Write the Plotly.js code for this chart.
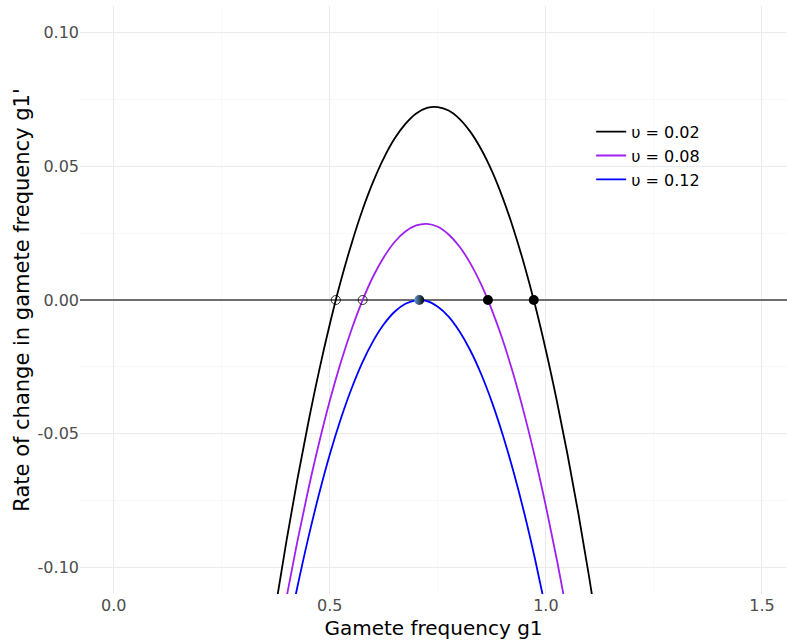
<!DOCTYPE html>
<html>
<head>
<meta charset="utf-8">
<script src="https://cdn.plot.ly/plotly-3.0.1.min.js"></script>
<style>html,body{margin:0;padding:0;background:#fff;}#chart{width:787px;height:644px;}</style>
</head>
<body>
<div id="chart"></div>
<script>
// Curve samples
const x002 = [0.375, 0.40, 0.425, 0.45, 0.475, 0.50, 0.525, 0.55, 0.575, 0.60, 0.625, 0.65, 0.675, 0.70, 0.725, 0.75, 0.775, 0.80, 0.825, 0.85, 0.875, 0.90, 0.925, 0.95, 0.975, 1.00, 1.025, 1.05, 1.075, 1.10, 1.125];
const y002 = [-0.1145, -0.0899, -0.0671, -0.0461, -0.0267, -0.0091, 0.0068, 0.0209, 0.0334, 0.0441, 0.0531, 0.0604, 0.0659, 0.0698, 0.0719, 0.0722, 0.0709, 0.0678, 0.0630, 0.0565, 0.0483, 0.0383, 0.0266, 0.0132, -0.0019, -0.0188, -0.0374, -0.0577, -0.0797, -0.1035, -0.129];
const x008 = [0.375, 0.40, 0.425, 0.45, 0.475, 0.50, 0.525, 0.55, 0.575, 0.60, 0.625, 0.65, 0.675, 0.70, 0.725, 0.75, 0.775, 0.80, 0.825, 0.85, 0.875, 0.90, 0.925, 0.95, 0.975, 1.00, 1.025, 1.05];
const y008 = [-0.134, -0.1112, -0.0903, -0.0711, -0.0536, -0.0377, -0.0236, -0.0112, -0.0004, 0.0087, 0.0160, 0.0217, 0.0256, 0.0279, 0.0285, 0.0274, 0.0245, 0.0200, 0.0138, 0.0059, -0.0037, -0.0149, -0.0279, -0.0426, -0.0590, -0.0771, -0.0968, -0.1183];
const x012 = [0.40, 0.425, 0.45, 0.475, 0.50, 0.525, 0.55, 0.575, 0.60, 0.625, 0.65, 0.675, 0.70, 0.725, 0.75, 0.775, 0.80, 0.825, 0.85, 0.875, 0.90, 0.925, 0.95, 0.975, 1.00, 1.025];
const y012 = [-0.1272, -0.1074, -0.0892, -0.0727, -0.0578, -0.0447, -0.0333, -0.0235, -0.0155, -0.0091, -0.0044, -0.0014, -0.0001, -0.0004, -0.0025, -0.0062, -0.0117, -0.0188, -0.0276, -0.0381, -0.0503, -0.0642, -0.0797, -0.0970, -0.1159, -0.1365];
const seriesNames = ["υ = 0.02", "υ = 0.08", "υ = 0.12"];
const seriesColors = ["#000000", "#a020f0", "#0000ff"];

// Equilibrium points
const unstableX = [0.514, 0.576];
const unstableY = [0, 0];
const stableX = [0.866, 0.972];
const stableY = [0, 0];
const halfX = [0.707];
const halfY = [0];

const xTickVals = [0, 0.5, 1.0, 1.5];
const xTickText = ["0.0", "0.5", "1.0", "1.5"];
const yTickVals = [-0.10, -0.05, 0, 0.05, 0.10];
const yTickText = ["-0.10", "-0.05", "0.00", "0.05", "0.10"];

const curves = [[x002, y002], [x008, y008], [x012, y012]];
const traces = curves.map((c, i) => ({
  x: c[0], y: c[1], type: 'scatter', mode: 'lines', name: seriesNames[i],
  line: {color: seriesColors[i], width: 1.8, shape: 'spline', smoothing: 1.0}
}));
traces.push({
  x: unstableX, y: unstableY, type: 'scatter', mode: 'markers', showlegend: false,
  marker: {symbol: 'circle-open', size: 9, color: '#000', line: {width: 0.8, color: '#000'}}
});
traces.push({
  x: stableX, y: stableY, type: 'scatter', mode: 'markers', showlegend: false,
  marker: {symbol: 'circle', size: 10, color: '#000'}
});
traces.push({
  x: halfX, y: halfY, type: 'scatter', mode: 'markers', showlegend: false,
  marker: {symbol: 'circle', size: 10, color: '#6a9fd4', gradient: {type: 'horizontal', color: '#000000'}, line: {width: 0}}
});

const gridColor = '#ebebeb';
const layout = {
  width: 787, height: 644,
  margin: {l: 80, r: 0, t: 6, b: 50},
  paper_bgcolor: '#fff', plot_bgcolor: '#fff',
  font: {family: 'DejaVu Sans, sans-serif', color: '#000'},
  showlegend: true,
  legend: {x: 0.723, y: 0.815, xanchor: 'left', yanchor: 'top', bgcolor: 'rgba(0,0,0,0)',
    font: {size: 16, color: '#000'}, itemwidth: 30, tracegroupgap: 0},
  xaxis: {
    range: [-0.078, 1.558], tickvals: xTickVals, ticktext: xTickText,
    showgrid: true, gridcolor: gridColor, gridwidth: 1.1, zeroline: false, showline: false, ticks: '',
    tickfont: {size: 16, color: '#4d4d4d'},
    minor: {dtick: 0.25, tick0: 0, showgrid: true, gridcolor: '#f3f3f3', gridwidth: 0.6},
    title: {text: 'Gamete frequency g1', font: {size: 20, color: '#000'}, standoff: 6}
  },
  yaxis: {
    range: [-0.11, 0.11], tickvals: yTickVals, ticktext: yTickText,
    showgrid: true, gridcolor: gridColor, gridwidth: 1.1, ticks: '',
    zeroline: true, zerolinecolor: '#6e6e6e', zerolinewidth: 1.6, showline: false,
    tickfont: {size: 16, color: '#4d4d4d'},
    minor: {dtick: 0.025, tick0: 0, showgrid: true, gridcolor: '#f3f3f3', gridwidth: 0.6},
    title: {text: "Rate of change in gamete frequency g1'", font: {size: 21, color: '#000'}, standoff: 2}
  }
};
Plotly.newPlot('chart', traces, layout, {displayModeBar: false, staticPlot: true});
</script>
</body>
</html>
